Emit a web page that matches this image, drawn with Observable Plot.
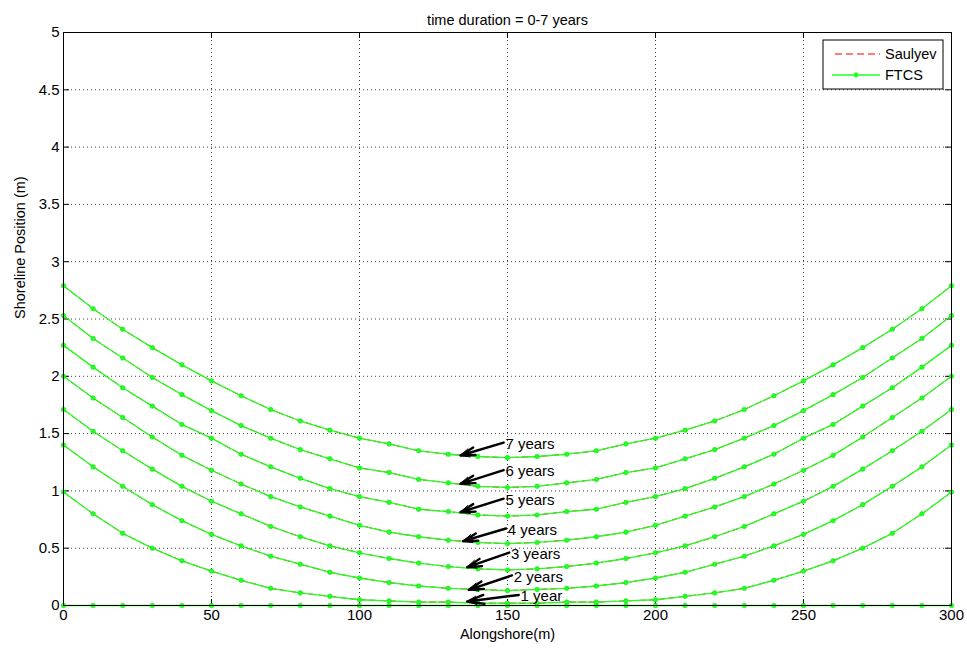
<!DOCTYPE html>
<html>
<head>
<meta charset="utf-8">
<script src="https://cdn.jsdelivr.net/npm/d3@7"></script>
<script src="https://cdn.jsdelivr.net/npm/@observablehq/plot@0.6"></script>
<style>
  html, body { margin: 0; padding: 0; background: #fff; }
  #chart svg { display: block; }
</style>
</head>
<body>
<div id="chart"></div>
<script>
// ---- data ----
const alongshore = [0,10,20,30,40,50,60,70,80,90,100,110,120,130,140,150,160,170,180,190,200,210,220,230,240,250,260,270,280,290,300];
const year0 = [0,0,0,0,0,0,0,0,0,0,0,0,0,0,0,0,0,0,0,0,0,0,0,0,0,0,0,0,0,0,0];
const year1 = [0.99,0.80,0.63,0.50,0.39,0.30,0.22,0.15,0.11,0.08,0.05,0.04,0.03,0.03,0.02,0.02,0.02,0.03,0.03,0.04,0.05,0.08,0.11,0.15,0.22,0.30,0.39,0.50,0.63,0.80,0.99];
const year2 = [1.40,1.21,1.04,0.88,0.74,0.62,0.52,0.43,0.36,0.29,0.24,0.20,0.17,0.15,0.14,0.13,0.14,0.15,0.17,0.20,0.24,0.29,0.36,0.43,0.52,0.62,0.74,0.88,1.04,1.21,1.40];
const year3 = [1.71,1.52,1.35,1.19,1.04,0.91,0.80,0.69,0.60,0.52,0.46,0.41,0.37,0.34,0.32,0.31,0.32,0.34,0.37,0.41,0.46,0.52,0.60,0.69,0.80,0.91,1.04,1.19,1.35,1.52,1.71];
const year4 = [2.00,1.81,1.64,1.47,1.31,1.18,1.06,0.95,0.86,0.78,0.70,0.64,0.60,0.57,0.55,0.54,0.55,0.57,0.60,0.64,0.70,0.78,0.86,0.95,1.06,1.18,1.31,1.47,1.64,1.81,2.00];
const year5 = [2.27,2.08,1.90,1.74,1.58,1.46,1.32,1.21,1.11,1.02,0.95,0.90,0.84,0.82,0.79,0.78,0.79,0.82,0.84,0.90,0.95,1.02,1.11,1.21,1.32,1.46,1.58,1.74,1.90,2.08,2.27];
const year6 = [2.53,2.33,2.16,1.99,1.84,1.70,1.57,1.46,1.36,1.28,1.20,1.16,1.10,1.07,1.04,1.03,1.04,1.07,1.10,1.16,1.20,1.28,1.36,1.46,1.57,1.70,1.84,1.99,2.16,2.33,2.53];
const year7 = [2.79,2.59,2.41,2.25,2.10,1.96,1.83,1.71,1.61,1.53,1.46,1.41,1.35,1.32,1.30,1.29,1.30,1.32,1.35,1.41,1.46,1.53,1.61,1.71,1.83,1.96,2.10,2.25,2.41,2.59,2.79];
const seriesNames = ["0","1","2","3","4","5","6","7"];
const seriesValues = [year0, year1, year2, year3, year4, year5, year6, year7];

const xTicks = [0,50,100,150,200,250,300];
const yTicks = [0,0.5,1,1.5,2,2.5,3,3.5,4,4.5,5];

// annotation labels (data coordinates)
const annotLabels = ["1 year","2 years","3 years","4 years","5 years","6 years","7 years"];
const annotTextX  = [154.4,152.1,151.2,150.1,149.3,149.3,149.3];
const annotTextY  = [0.08,0.25,0.45,0.66,0.92,1.17,1.41];
const annotTipX   = [136.4,136.9,136.4,135.0,134.1,134.1,134.1];
const annotTipY   = [0.035,0.137,0.334,0.561,0.814,1.062,1.309];

const titleText = "time duration = 0-7 years";
const xLabel = "Alongshore(m)";
const yLabel = "Shoreline Position (m)";
const legendLabels = ["Saulyev", "FTCS"];

// ---- build table ----
const rows = [];
seriesNames.forEach((s, i) => {
  seriesValues[i].forEach((v, j) => rows.push({series: s, x: alongshore[j], y: v}));
});
const annots = annotLabels.map((t, i) => ({
  text: t, tx: annotTextX[i], ty: annotTextY[i], hx: annotTipX[i], hy: annotTipY[i]
}));

const W = 967, H = 653;
const mL = 63, mR = 16, mT = 32, mB = 48;
const fW = W - mL - mR, fH = H - mT - mB;
const font = "'Liberation Sans', Arial, Helvetica, sans-serif";
const green = "#22ff22";

const plot = Plot.plot({
  width: W,
  height: H,
  marginLeft: mL,
  marginRight: mR,
  marginTop: mT,
  marginBottom: mB,
  style: {fontFamily: font, fontSize: "14.5px", color: "#000", background: "#fff"},
  x: {domain: [0, 300], ticks: xTicks},
  y: {domain: [0, 5], ticks: yTicks},
  marks: [
    // grid
    Plot.gridX(xTicks, {stroke: "#000", strokeOpacity: 0.75, strokeDasharray: "1,3"}),
    Plot.gridY(yTicks, {stroke: "#000", strokeOpacity: 0.75, strokeDasharray: "1,3"}),
    // inward ticks on all four sides
    Plot.tickX(xTicks, {x: d => d, stroke: "#000", insetTop: fH - 6}),
    Plot.tickX(xTicks, {x: d => d, stroke: "#000", insetBottom: fH - 6}),
    Plot.tickY(yTicks, {y: d => d, stroke: "#000", insetRight: fW - 6}),
    Plot.tickY(yTicks, {y: d => d, stroke: "#000", insetLeft: fW - 6}),
    // axes labels (tick labels only)
    Plot.axisX(xTicks, {tickSize: 0, tickPadding: 4, label: null, fontSize: 15}),
    Plot.axisY(yTicks, {tickSize: 0, tickPadding: 4, label: null, fontSize: 15, tickFormat: d => String(d)}),
    // Saulyev (red dashed) under FTCS
    Plot.line(rows, {x: "x", y: "y", z: "series", stroke: "#ff0000", strokeWidth: 1.0, strokeDasharray: "6,4"}),
    // FTCS (green with dots)
    Plot.line(rows, {x: "x", y: "y", z: "series", stroke: green, strokeWidth: 1.3}),
    Plot.dot(rows, {x: "x", y: "y", r: 2.3, fill: green, stroke: "#00e000", strokeWidth: 0.5}),
    // frame
    Plot.frame({stroke: "#000", strokeWidth: 1}),
    // annotations
    Plot.arrow(annots, {x1: d => d.tx - 0.6, y1: d => d.ty + 0.012, x2: "hx", y2: "hy", stroke: "#000", strokeWidth: 1, headLength: 15, headAngle: 50}),
    Plot.arrow(annots, {x1: d => d.tx - 0.6, y1: d => d.ty + 0.012, x2: "hx", y2: "hy", stroke: "#000", strokeWidth: 2.4, headLength: 13, headAngle: 30}),
    Plot.text(annots, {x: "tx", y: "ty", text: "text", textAnchor: "start", fontSize: 15, fill: "#000"}),
    // title & axis labels
    Plot.text([titleText], {frameAnchor: "top", dy: -18, text: d => d, fontSize: 14.5, fill: "#000"}),
    Plot.text([xLabel], {frameAnchor: "bottom", dy: 33, text: d => d, fontSize: 14.5, fill: "#000"}),
    Plot.text([yLabel], {frameAnchor: "left", dx: -43, rotate: -90, text: d => d, fontSize: 14.5, fill: "#000"})
  ]
});

document.getElementById("chart").appendChild(plot);

// ---- legend box (top-right inside frame) ----
const svg = d3.select(plot);
const lg = svg.append("g").attr("font-family", font).attr("font-size", 14.5).attr("text-anchor", "start");
lg.append("rect").attr("x", 823).attr("y", 40).attr("width", 120).attr("height", 49)
  .attr("fill", "#fff").attr("stroke", "#000").attr("stroke-width", 1);
lg.append("line").attr("x1", 835).attr("x2", 880).attr("y1", 54).attr("y2", 54)
  .attr("stroke", "#ff0000").attr("stroke-width", 1.2).attr("stroke-dasharray", "7,4");
lg.append("text").attr("x", 885).attr("y", 54).attr("dy", "0.35em").attr("text-anchor", "start").text(legendLabels[0]);
lg.append("line").attr("x1", 832).attr("x2", 880).attr("y1", 75).attr("y2", 75)
  .attr("stroke", green).attr("stroke-width", 1.3);
lg.append("circle").attr("cx", 856).attr("cy", 75).attr("r", 2.4).attr("fill", green);
lg.append("text").attr("x", 885).attr("y", 75).attr("dy", "0.35em").attr("text-anchor", "start").text(legendLabels[1]);
</script>
</body>
</html>
